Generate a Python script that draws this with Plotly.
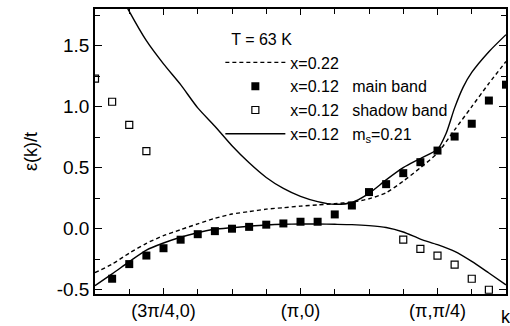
import plotly.graph_objects as go

# k axis: 0..12 in units of pi/16; (3pi/4,0)=2, (pi,0)=6, (pi,pi/4)=10
k_main = [0.5, 1.0, 1.5, 2.0, 2.5, 3.0, 3.5, 4.0, 4.5, 5.0, 5.5, 6.0,
          6.5, 7.0, 7.5, 8.0, 8.5, 9.0, 9.5, 10.0, 10.5, 11.0, 11.5, 12.0]
e_main = [-0.41, -0.29, -0.22, -0.16, -0.09, -0.045, -0.02, 0.0, 0.015, 0.033, 0.043, 0.057,
          0.057, 0.117, 0.19, 0.30, 0.365, 0.455, 0.545, 0.64, 0.755, 0.86, 1.05, 1.18]

k_shadow = [0.0, 0.5, 1.0, 1.5, 9.0, 9.5, 10.0, 10.5, 11.0, 11.5]
e_shadow = [1.23, 1.04, 0.85, 0.635, -0.09, -0.165, -0.22, -0.295, -0.41, -0.50]

k_dash = [0.0, 0.5, 1.0, 1.5, 2.0, 2.5, 3.0, 3.5, 4.0, 4.5, 5.0, 5.5, 6.0,
          6.5, 7.0, 7.5, 8.0, 8.5, 9.0, 9.5, 10.0, 10.5, 11.0, 11.5, 12.0]
e_dash = [-0.36, -0.29, -0.2, -0.12, -0.057, -0.008, 0.04, 0.085, 0.12, 0.14, 0.16, 0.172, 0.185,
          0.195, 0.205, 0.218, 0.245, 0.295, 0.39, 0.5, 0.62, 0.81, 1.0, 1.19, 1.37]

k_low = [0.0, 0.5, 1.0, 1.5, 2.0, 2.5, 3.0, 3.5, 4.0, 4.5, 5.0, 5.5, 6.0,
         6.5, 7.0, 7.5, 8.0, 8.5, 9.0, 9.5, 10.0, 10.5, 11.0, 11.5, 12.0]
e_low = [-0.467, -0.37, -0.27, -0.175, -0.117, -0.07, -0.033, -0.005, 0.008, 0.02, 0.03, 0.036, 0.038,
         0.038, 0.036, 0.033, 0.025, 0.01, -0.027, -0.085, -0.131, -0.186, -0.268, -0.363, -0.46]

k_up = [0.5, 1.0, 1.5, 2.0, 2.5, 3.0, 3.5, 4.0, 4.5, 5.0, 5.5, 6.0, 6.5, 7.0,
        7.5, 8.0, 8.5, 9.0, 9.5, 10.0, 10.25, 10.5, 10.75, 11.0, 11.5, 12.0]
e_up = [2.05, 1.78, 1.54, 1.35, 1.18, 0.99, 0.84, 0.68, 0.54, 0.42, 0.33, 0.265, 0.222, 0.2,
        0.215, 0.29, 0.40, 0.50, 0.575, 0.65, 0.78, 0.99, 1.16, 1.28, 1.45, 1.59]

x_tickvals = [2, 6, 10]
x_ticktext = ["(3π/4,0)", "(π,0)", "(π,π/4)"]
y_tickvals = [-0.5, 0.0, 0.5, 1.0, 1.5]
y_ticktext = ["-0.5", "0.0", "0.5", "1.0", "1.5"]

FONT = "Liberation Sans, Arial, sans-serif"
sp = "&nbsp;&nbsp;&nbsp;"

fig = go.Figure()
fig.add_trace(go.Scatter(x=k_dash, y=e_dash, mode="lines", name="x=0.22",
                         line=dict(color="black", width=1.4, dash="4px,3px", shape="spline", smoothing=0.7)))
fig.add_trace(go.Scatter(x=k_main, y=e_main, mode="markers", name="x=0.12" + sp + "main band",
                         marker=dict(symbol="square", size=8, color="black")))
fig.add_trace(go.Scatter(x=k_shadow, y=e_shadow, mode="markers", name="x=0.12" + sp + "shadow band",
                         marker=dict(symbol="square-open", size=7, color="black", line=dict(width=1.2))))
fig.add_trace(go.Scatter(x=k_low, y=e_low, mode="lines", name="x=0.12" + sp + "m<sub>s</sub>=0.21",
                         line=dict(color="black", width=1.4, shape="spline", smoothing=0.7)))
fig.add_trace(go.Scatter(x=k_up, y=e_up, mode="lines", showlegend=False,
                         line=dict(color="black", width=1.4, shape="spline", smoothing=0.7)))

fig.update_layout(
    width=510, height=326,
    margin=dict(l=95, r=2, t=9, b=32),
    paper_bgcolor="white", plot_bgcolor="white",
    font=dict(family=FONT, color="black", size=16),
    showlegend=True,
    legend=dict(x=0.305, y=0.945, xanchor="left", yanchor="top",
                bgcolor="rgba(0,0,0,0)", font=dict(size=16),
                title=dict(text="&nbsp;&nbsp;T = 63 K", font=dict(size=16)),
                tracegroupgap=0, itemwidth=60),
    xaxis=dict(range=[0, 12], showline=True, linecolor="black", linewidth=1.5, mirror="allticks",
               ticks="inside", ticklen=6, tickwidth=1, tickcolor="black",
               tickvals=x_tickvals, ticktext=x_ticktext, tickfont=dict(size=18),
               minor=dict(dtick=1, tick0=0, ticks="inside", ticklen=5, tickcolor="black"),
               showgrid=False, zeroline=False),
    yaxis=dict(range=[-0.535, 1.80], showline=True, linecolor="black", linewidth=1.5, mirror="allticks",
               ticks="inside", ticklen=7, tickwidth=1, tickcolor="black",
               tickvals=y_tickvals, ticktext=y_ticktext, tickfont=dict(size=19),
               minor=dict(dtick=0.25, tick0=0, ticks="inside", ticklen=5, tickcolor="black"),
               title=dict(text="ε(k)/t", font=dict(size=18), standoff=14),
               showgrid=False, zeroline=False),
)
fig.add_annotation(text="k", xref="paper", yref="paper", x=1.0, y=-0.08,
                   showarrow=False, font=dict(size=18), xanchor="center", yanchor="middle")

fig.write_html("out.html")
